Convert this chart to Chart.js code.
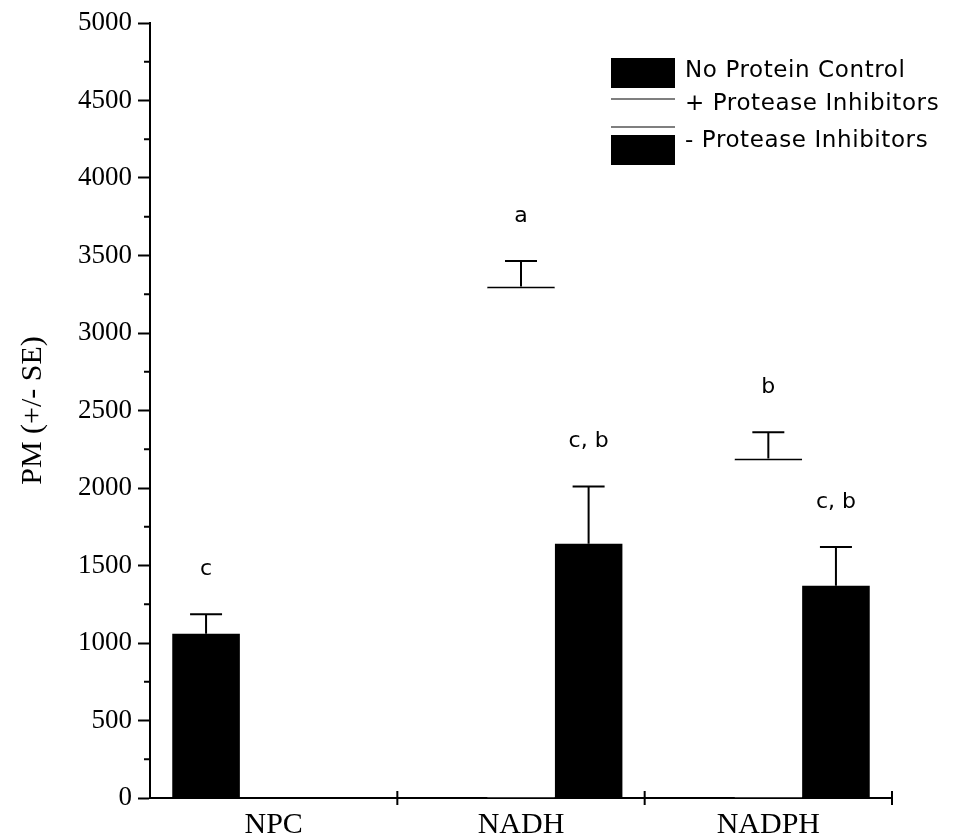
<!DOCTYPE html>
<html>
<head>
<meta charset="utf-8">
<script src="https://cdn.jsdelivr.net/npm/chart.js@4.4.1/dist/chart.umd.min.js"></script>
<style>
  html, body { margin: 0; padding: 0; background: #fff; }
  #wrap { width: 958px; height: 840px; position: relative; }
</style>
</head>
<body>
<div id="wrap"><canvas id="c" width="958" height="840"></canvas></div>
<script>
// ---- data ----
const categories = ['NPC', 'NADH', 'NADPH'];
const seriesNames = ['No Protein Control', '+ Protease Inhibitors', '- Protease Inhibitors'];
const npcValues   = [1060, null, null];
const plusValues  = [null, 3300, 2190];
const minusValues = [null, 1640, 1370];
const npcSE   = [125, null, null];
const plusSE  = [null, 165, 170];
const minusSE = [null, 370, 250];
const npcLetters   = ['c', null, null];
const plusLetters  = [null, 'a', 'b'];
const minusLetters = [null, 'c, b', 'c, b'];
const yTicks = [0, 500, 1000, 1500, 2000, 2500, 3000, 3500, 4000, 4500, 5000];

const serif = "'Liberation Serif', 'Times New Roman', serif";
const sans = "'DejaVu Sans', 'Liberation Sans', sans-serif";

const errorBarPlugin = {
  id: 'errorBars',
  afterDatasetsDraw(chart) {
    const ctx = chart.ctx;
    const y = chart.scales.y;
    chart.data.datasets.forEach((ds, i) => {
      const meta = chart.getDatasetMeta(i);
      meta.data.forEach((el, j) => {
        const v = ds.data[j];
        if (v === null || v === undefined) return;
        const se = ds.se[j];
        const yTop = y.getPixelForValue(v + se);
        ctx.save();
        ctx.strokeStyle = '#000';
        ctx.lineWidth = 2;
        ctx.beginPath();
        ctx.moveTo(el.x, el.y);
        ctx.lineTo(el.x, yTop);
        ctx.moveTo(el.x - 16, yTop);
        ctx.lineTo(el.x + 16, yTop);
        ctx.stroke();
        const letter = ds.letters[j];
        if (letter) {
          ctx.fillStyle = '#000';
          ctx.font = '22px ' + sans;
          ctx.textAlign = 'center';
          ctx.textBaseline = 'middle';
          ctx.fillText(letter, el.x, yTop - 45);
        }
        ctx.restore();
      });
    });
  }
};

const axisExtrasPlugin = {
  id: 'axisExtras',
  afterDraw(chart) {
    const ctx = chart.ctx;
    const y = chart.scales.y;
    const x = chart.scales.x;
    const area = chart.chartArea;
    ctx.save();
    ctx.strokeStyle = '#000';
    ctx.lineWidth = 2;
    // minor y ticks
    for (let k = 0; k < yTicks.length - 1; k++) {
      const mid = (yTicks[k] + yTicks[k + 1]) / 2;
      const py = y.getPixelForValue(mid);
      ctx.beginPath();
      ctx.moveTo(area.left - 6, py);
      ctx.lineTo(area.left, py);
      ctx.stroke();
    }
    // x category boundary marks
    const step = x.getPixelForValue(1) - x.getPixelForValue(0);
    for (let k = 1; k <= categories.length; k++) {
      const px = x.getPixelForValue(k - 1) + step / 2;
      ctx.beginPath();
      ctx.moveTo(px, area.bottom - 7);
      ctx.lineTo(px, area.bottom + 7);
      ctx.stroke();
    }
    ctx.restore();

    // legend
    const lx = 611, bw = 64, bh = 30;
    const boxRows = [73, 113, 150];
    const textRows = [71, 104, 141];
    ctx.save();
    chart.data.datasets.forEach((ds, i) => {
      const cy = boxRows[i];
      if (ds.backgroundColor === '#ffffff') {
        ctx.strokeStyle = '#555';
        ctx.lineWidth = 1.5;
        ctx.beginPath();
        ctx.moveTo(lx, cy - bh / 2 + 1);
        ctx.lineTo(lx + bw, cy - bh / 2 + 1);
        ctx.moveTo(lx, cy + bh / 2 - 1);
        ctx.lineTo(lx + bw, cy + bh / 2 - 1);
        ctx.stroke();
      } else {
        ctx.fillStyle = ds.backgroundColor;
        ctx.fillRect(lx, cy - bh / 2, bw, bh);
      }
      ctx.fillStyle = '#000';
      ctx.font = '23px ' + sans;
      ctx.letterSpacing = '0.6px';
      ctx.textAlign = 'left';
      ctx.textBaseline = 'middle';
      ctx.fillText(ds.label, lx + bw + 10, textRows[i]);
    });
    ctx.restore();
  }
};

new Chart(document.getElementById('c'), {
  type: 'bar',
  data: {
    labels: categories,
    datasets: [
      { label: seriesNames[0], data: npcValues, se: npcSE, letters: npcLetters,
        backgroundColor: '#000000', borderWidth: 0 },
      { label: seriesNames[1], data: plusValues, se: plusSE, letters: plusLetters,
        backgroundColor: '#ffffff', borderColor: '#000000',
        borderWidth: { top: 2, left: 0, right: 0, bottom: 0 }, borderSkipped: false },
      { label: seriesNames[2], data: minusValues, se: minusSE, letters: minusLetters,
        backgroundColor: '#000000', borderWidth: 0 }
    ]
  },
  options: {
    responsive: false,
    animation: false,
    events: [],
    layout: { padding: { top: 23, right: 66, bottom: 2, left: 15 } },
    datasets: { bar: { categoryPercentage: 0.82, barPercentage: 1.0 } },
    plugins: { legend: { display: false }, tooltip: { enabled: false } },
    scales: {
      x: {
        offset: true,
        grid: { display: false },
        border: { display: true, color: '#000', width: 2 },
        ticks: { color: '#000', font: { family: serif, size: 30 }, padding: 1 },
        afterFit(scale) { scale.height = 40; }
      },
      y: {
        min: 0, max: 5000,
        afterBuildTicks(scale) { scale.ticks = yTicks.map(v => ({ value: v })); },
        grid: { drawOnChartArea: false, color: '#000', tickLength: 12, tickWidth: 2 },
        border: { display: true, color: '#000', width: 2 },
        ticks: { color: '#000', font: { family: serif, size: 27 }, padding: 6,
                 callback: (v) => String(v) },
        title: { display: true, text: 'PM (+/- SE)', color: '#000',
                 font: { family: serif, size: 30 }, padding: { top: 0, bottom: 0 } },
        afterFit(scale) { scale.width = 135; }
      }
    }
  },
  plugins: [errorBarPlugin, axisExtrasPlugin]
});
</script>
</body>
</html>
